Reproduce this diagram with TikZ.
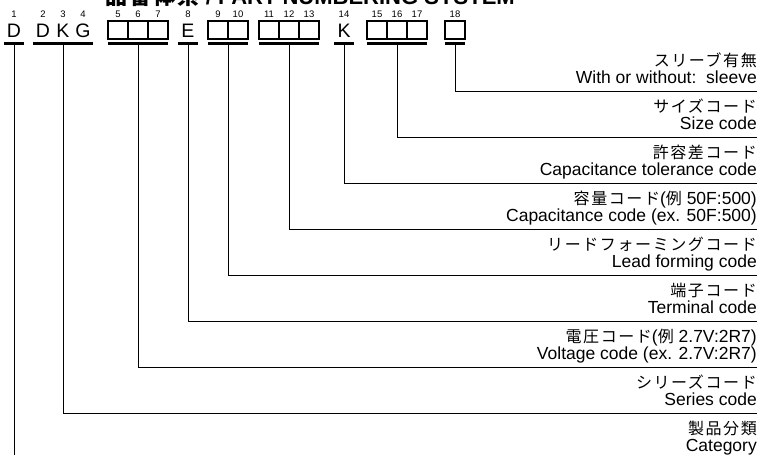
\documentclass[tikz,border=0pt]{standalone}
\usepackage{fontspec}
\setmainfont{Liberation Sans}
\newfontfamily\jp[LetterSpace=10]{Noto Sans CJK JP}
\newcommand{\lat}[1]{{\rmfamily\fontsize{17.5}{20}\selectfont #1}}
\usetikzlibrary{positioning}

\begin{document}
\begin{tikzpicture}[
    x=1pt, y=-1pt,
    font=\fontsize{17.5}{20}\selectfont,
    slot/.style={minimum width=20pt, minimum height=18pt, inner sep=0pt, outer sep=0pt},
    cell/.style={slot, draw, line width=1.1pt},
    letter/.style={slot, font=\fontsize{19.5}{22}\selectfont, text height=14pt, text depth=0pt},
    digit/.style={inner sep=0pt, font=\fontsize{9.5}{10}\selectfont},
    bar/.style={line width=3pt},
    lead/.style={line width=1pt},
    jptext/.style={anchor=base east, inner sep=0pt, font=\jp\fontsize{16}{18}\selectfont},
    entext/.style={anchor=base east, inner sep=0pt},
    title/.style={anchor=base east, inner sep=0pt, font=\fontsize{22}{24}\selectfont\bfseries}
]
\useasboundingbox (0,0) rectangle (758,455);
\clip (0,0) rectangle (758,455);

% title, cut off at the top
\node[title] (ttl) at (515,5) {{\jp\bfseries 品番体系}\ /\ PART NUMBERING SYSTEM};

% code positions
\node[letter] (p1) at (14,30) {D};
\node[letter] (p2) at (43,30) {D};
\node[letter, right=0pt of p2] (p3) {K};
\node[letter, right=0pt of p3] (p4) {G};
\node[cell] (p5) at (118,30) {};
\node[cell, right=0pt of p5] (p6) {};
\node[cell, right=0pt of p6] (p7) {};
\node[letter] (p8) at (188,30) {E};
\node[cell] (p9) at (218,30) {};
\node[cell, right=0pt of p9] (p10) {};
\node[cell] (p11) at (269,30) {};
\node[cell, right=0pt of p11] (p12) {};
\node[cell, right=0pt of p12] (p13) {};
\node[letter] (p14) at (344,30) {K};
\node[cell] (p15) at (377,30) {};
\node[cell, right=0pt of p15] (p16) {};
\node[cell, right=0pt of p16] (p17) {};
\node[cell] (p18) at (455,30) {};

% position numbers
\node[digit, above=3.5pt of p1] (d1) {1};
\node[digit, above=3.5pt of p2] (d2) {2};
\node[digit, above=3.5pt of p3] (d3) {3};
\node[digit, above=3.5pt of p4] (d4) {4};
\node[digit, above=3.5pt of p5] (d5) {5};
\node[digit, above=3.5pt of p6] (d6) {6};
\node[digit, above=3.5pt of p7] (d7) {7};
\node[digit, above=3.5pt of p8] (d8) {8};
\node[digit, above=3.5pt of p9] (d9) {9};
\node[digit, above=3.5pt of p10] (d10) {10};
\node[digit, above=3.5pt of p11] (d11) {11};
\node[digit, above=3.5pt of p12] (d12) {12};
\node[digit, above=3.5pt of p13] (d13) {13};
\node[digit, above=3.5pt of p14] (d14) {14};
\node[digit, above=3.5pt of p15] (d15) {15};
\node[digit, above=3.5pt of p16] (d16) {16};
\node[digit, above=3.5pt of p17] (d17) {17};
\node[digit, above=3.5pt of p18] (d18) {18};

% group bars
\draw[bar] ([yshift=-4.5pt]p1.south west) -- ([yshift=-4.5pt]p1.south east);
\draw[bar] ([yshift=-4.5pt]p2.south west) -- ([yshift=-4.5pt]p4.south east);
\draw[bar] ([yshift=-4.5pt]p5.south west) -- ([yshift=-4.5pt]p7.south east);
\draw[bar] ([yshift=-4.5pt]p8.south west) -- ([yshift=-4.5pt]p8.south east);
\draw[bar] ([yshift=-4.5pt]p9.south west) -- ([yshift=-4.5pt]p10.south east);
\draw[bar] ([yshift=-4.5pt]p11.south west) -- ([yshift=-4.5pt]p13.south east);
\draw[bar] ([yshift=-4.5pt]p14.south west) -- ([yshift=-4.5pt]p14.south east);
\draw[bar] ([yshift=-4.5pt]p15.south west) -- ([yshift=-4.5pt]p17.south east);
\draw[bar] ([yshift=-4.5pt]p18.south west) -- ([yshift=-4.5pt]p18.south east);

\coordinate (g1) at ([yshift=-6pt]p1.south);
\coordinate (g2) at ([yshift=-6pt]p3.south);
\coordinate (g5) at ([yshift=-6pt]p6.south);
\coordinate (g8) at ([yshift=-6pt]p8.south);
\coordinate (g9) at ([yshift=-6pt]p9.south east);
\coordinate (g11) at ([yshift=-6pt]p12.south);
\coordinate (g14) at ([yshift=-6pt]p14.south);
\coordinate (g15) at ([yshift=-6pt]p16.south);
\coordinate (g18) at ([yshift=-6pt]p18.south);

% line ends at the right
\coordinate (e18) at (757,91);
\coordinate (e15) at (757,137);
\coordinate (e14) at (757,183);
\coordinate (e11) at (757,229);
\coordinate (e9) at (757,275);
\coordinate (e8) at (757,321);
\coordinate (e5) at (757,367);
\coordinate (e2) at (757,413);
\coordinate (e1) at (757,459);

\draw[lead] (g18) |- (e18);
\draw[lead] (g15) |- (e15);
\draw[lead] (g14) |- (e14);
\draw[lead] (g11) |- (e11);
\draw[lead] (g9) |- (e9);
\draw[lead] (g8) |- (e8);
\draw[lead] (g5) |- (e5);
\draw[lead] (g2) |- (e2);
\draw[lead] (g1) |- (e1);

% labels
\node[jptext] (j18) at ([yshift=25pt]e18) {スリーブ有無};
\node[entext] (n18) at ([yshift=8pt]e18) {With or without:\ \ sleeve};
\node[jptext] (j15) at ([yshift=25pt]e15) {サイズコード};
\node[entext] (n15) at ([yshift=8pt]e15) {Size code};
\node[jptext] (j14) at ([yshift=25pt]e14) {許容差コード};
\node[entext] (n14) at ([yshift=8pt]e14) {Capacitance tolerance code};
\node[jptext] (j11) at ([yshift=25pt]e11) {容量コード\lat{(}例\lat{ 50F:500)}};
\node[entext] (n11) at ([yshift=8pt]e11) {Capacitance code (ex. 50F:500)};
\node[jptext] (j9) at ([yshift=25pt]e9) {リードフォーミングコード};
\node[entext] (n9) at ([yshift=8pt]e9) {Lead forming code};
\node[jptext] (j8) at ([yshift=25pt]e8) {端子コード};
\node[entext] (n8) at ([yshift=8pt]e8) {Terminal code};
\node[jptext] (j5) at ([yshift=25pt]e5) {電圧コード\lat{(}例\lat{ 2.7V:2R7)}};
\node[entext] (n5) at ([yshift=8pt]e5) {Voltage code (ex. 2.7V:2R7)};
\node[jptext] (j2) at ([yshift=25pt]e2) {シリーズコード};
\node[entext] (n2) at ([yshift=8pt]e2) {Series code};
\node[jptext] (j1) at ([yshift=25pt]e1) {製品分類};
\node[entext] (n1) at ([yshift=8pt]e1) {Category};
\end{tikzpicture}
\end{document}
